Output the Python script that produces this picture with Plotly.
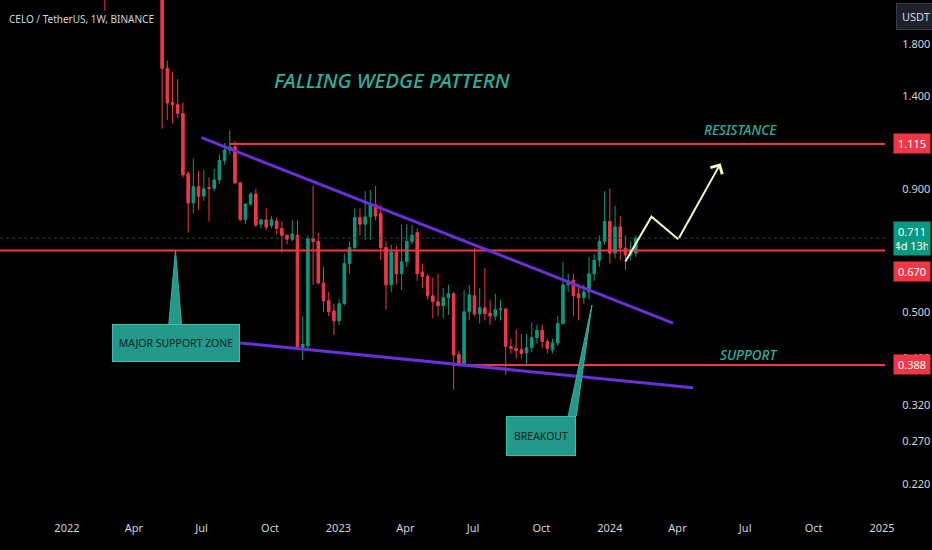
import math
import pandas as pd
import plotly.graph_objects as go

# CELO / USDT weekly candles
weeks = ["2022-02-21"] + [d.strftime("%Y-%m-%d") for d in pd.date_range("2022-05-09", periods=92, freq="7D")]

opens = [2.55,
         2.40, 1.60, 1.36, 1.345, 1.29, 0.967, 0.841, 0.909, 0.869, 0.905,
         0.902, 0.939, 1.03, 1.083, 1.10, 0.926, 0.777, 0.837, 0.878, 0.76,
         0.776, 0.755, 0.772, 0.745, 0.721, 0.707, 0.721, 0.42, 0.425, 0.711,
         0.70, 0.574, 0.528, 0.502, 0.479, 0.52, 0.63, 0.68, 0.785, 0.76,
         0.787, 0.835, 0.80, 0.68, 0.569, 0.665, 0.60, 0.635, 0.70, 0.73,
         0.605, 0.592, 0.54, 0.525, 0.515, 0.535, 0.545, 0.408, 0.39, 0.50,
         0.54, 0.495, 0.51, 0.497, 0.49, 0.505, 0.507, 0.424, 0.42, 0.418,
         0.411, 0.421, 0.442, 0.458, 0.434, 0.417, 0.431, 0.473, 0.569, 0.582,
         0.545, 0.535, 0.55, 0.60, 0.64, 0.70, 0.77, 0.662, 0.75, 0.678,
         0.656, 0.662]
highs = [2.75,
         2.52, 1.66, 1.57, 1.52, 1.36, 0.98, 1.04, 0.98, 0.985, 0.95,
         0.99, 1.06, 1.12, 1.19, 1.13, 0.93, 0.84, 0.885, 0.90, 0.78,
         0.82, 0.79, 0.785, 0.77, 0.725, 0.776, 0.776, 0.49, 0.72, 0.913,
         0.73, 0.62, 0.55, 0.52, 0.53, 0.66, 0.70, 0.82, 0.82, 0.89,
         0.895, 0.913, 0.835, 0.70, 0.69, 0.685, 0.757, 0.76, 0.757, 0.745,
         0.63, 0.60, 0.59, 0.60, 0.56, 0.569, 0.55, 0.415, 0.555, 0.569,
         0.678, 0.56, 0.617, 0.53, 0.545, 0.53, 0.51, 0.44, 0.46, 0.45,
         0.45, 0.475, 0.47, 0.47, 0.44, 0.44, 0.49, 0.635, 0.60, 0.60,
         0.57, 0.57, 0.65, 0.66, 0.72, 0.89, 0.90, 0.83, 0.79, 0.72,
         0.70, 0.72]
lows = [2.11,
        1.20, 1.25, 1.23, 1.26, 0.95, 0.73, 0.80, 0.813, 0.85, 0.77,
        0.89, 0.92, 1.01, 1.06, 0.92, 0.77, 0.76, 0.83, 0.75, 0.745,
        0.74, 0.745, 0.725, 0.662, 0.69, 0.70, 0.42, 0.397, 0.42, 0.569,
        0.57, 0.50, 0.49, 0.448, 0.47, 0.515, 0.60, 0.67, 0.72, 0.705,
        0.705, 0.775, 0.64, 0.505, 0.55, 0.57, 0.555, 0.62, 0.69, 0.58,
        0.56, 0.53, 0.485, 0.49, 0.485, 0.493, 0.345, 0.385, 0.385, 0.48,
        0.49, 0.473, 0.48, 0.47, 0.48, 0.48, 0.37, 0.41, 0.40, 0.40,
        0.39, 0.412, 0.43, 0.42, 0.41, 0.41, 0.425, 0.47, 0.55, 0.49,
        0.48, 0.52, 0.53, 0.58, 0.62, 0.69, 0.63, 0.645, 0.64, 0.61,
        0.64, 0.65]
closes = [2.40,
          1.60, 1.356, 1.345, 1.29, 0.962, 0.841, 0.909, 0.869, 0.90, 0.902,
          0.939, 1.03, 1.083, 1.10, 0.926, 0.777, 0.837, 0.878, 0.757, 0.776,
          0.75, 0.776, 0.745, 0.721, 0.707, 0.725, 0.423, 0.428, 0.71, 0.70,
          0.574, 0.527, 0.50, 0.479, 0.52, 0.63, 0.68, 0.785, 0.76, 0.787,
          0.835, 0.79, 0.68, 0.569, 0.665, 0.60, 0.635, 0.70, 0.721, 0.60,
          0.592, 0.54, 0.525, 0.515, 0.535, 0.545, 0.407, 0.39, 0.50, 0.542,
          0.495, 0.51, 0.496, 0.49, 0.505, 0.507, 0.424, 0.42, 0.416, 0.41,
          0.421, 0.442, 0.458, 0.434, 0.42, 0.431, 0.473, 0.569, 0.58, 0.54,
          0.535, 0.55, 0.60, 0.64, 0.70, 0.77, 0.662, 0.75, 0.678, 0.656,
          0.672, 0.711]

# drawn levels and lines
resistance = 1.115
mid_level = 0.670
support = 0.388
last_price = 0.711
upper_wedge_x = ["2022-07-01", "2024-03-26"]
upper_wedge_y = [1.149, 0.474]
lower_wedge_x = ["2022-08-22", "2024-04-22"]
lower_wedge_y = [0.431, 0.348]
path_x = ["2024-01-22", "2024-02-26", "2024-04-02", "2024-05-29"]
path_y = [0.636, 0.788, 0.707, 1.017]
circle_x = ["2023-11-13", "2023-12-26"]
circle_y = [0.519, 0.651]
zone_ptr_x = ["2022-05-18", "2022-05-27", "2022-06-04"]
zone_ptr_y = [0.472, 0.670, 0.472]
brk_ptr_x = ["2023-11-06", "2023-12-08", "2023-11-17"]
brk_ptr_y = [0.304, 0.517, 0.304]

# axes
x_ticks = ["2022-01-01", "2022-04-01", "2022-07-01", "2022-10-01", "2023-01-01", "2023-04-01",
           "2023-07-01", "2023-10-01", "2024-01-01", "2024-04-01", "2024-07-01", "2024-10-01", "2025-01-01"]
x_labels = ["2022", "Apr", "Jul", "Oct", "2023", "Apr", "Jul", "Oct", "2024", "Apr", "Jul", "Oct", "2025"]
y_ticks = [0.22, 0.27, 0.32, 0.40, 0.50, 0.75, 0.90, 1.40, 1.80]

GREEN = "#089981"
RED = "#f23645"
PURPLE = "#6a2fd8"
TEAL = "#2bb09c"
CREAM = "#fbf5c4"
FONT = "Noto Sans"

fig = go.Figure()

fig.add_trace(go.Candlestick(
    x=weeks, open=opens, high=highs, low=lows, close=closes,
    increasing=dict(line=dict(color=GREEN, width=1), fillcolor=GREEN),
    decreasing=dict(line=dict(color=RED, width=1), fillcolor=RED),
    whiskerwidth=0, hoverinfo="skip"))

# current price line
fig.add_trace(go.Scatter(x=["2021-09-01", "2025-03-01"], y=[last_price, last_price], mode="lines",
                         line=dict(color="#0d4f43", width=1, dash="dot"), hoverinfo="skip"))

# horizontal levels
fig.add_trace(go.Scatter(x=["2021-09-01", "2025-03-01"], y=[mid_level, mid_level], mode="lines",
                         line=dict(color=RED, width=2), hoverinfo="skip"))
fig.add_trace(go.Scatter(x=["2022-08-08", "2025-03-01"], y=[resistance, resistance], mode="lines",
                         line=dict(color=RED, width=2), hoverinfo="skip"))
fig.add_trace(go.Scatter(x=["2023-06-05", "2025-03-01"], y=[support, support], mode="lines",
                         line=dict(color=RED, width=2), hoverinfo="skip"))

# wedge lines
fig.add_trace(go.Scatter(x=upper_wedge_x, y=upper_wedge_y, mode="lines",
                         line=dict(color=PURPLE, width=3), hoverinfo="skip"))
fig.add_trace(go.Scatter(x=lower_wedge_x, y=lower_wedge_y, mode="lines",
                         line=dict(color=PURPLE, width=3), hoverinfo="skip"))

# callout pointers
fig.add_trace(go.Scatter(x=zone_ptr_x, y=zone_ptr_y, mode="lines", fill="toself",
                         fillcolor="#22998a", line=dict(color="#2fb3a1", width=1), hoverinfo="skip"))
fig.add_trace(go.Scatter(x=brk_ptr_x, y=brk_ptr_y, mode="lines", fill="toself",
                         fillcolor="#22998a", line=dict(color="#2fb3a1", width=1), hoverinfo="skip"))

# projected path
fig.add_trace(go.Scatter(x=path_x[:-1], y=path_y[:-1], mode="lines",
                         line=dict(color=CREAM, width=2), hoverinfo="skip"))

lg = math.log10

# breakout circle
fig.add_shape(type="circle", xref="x", yref="y",
              x0=circle_x[0], x1=circle_x[1], y0=lg(circle_y[0]), y1=lg(circle_y[1]),
              line=dict(color=CREAM, width=2), fillcolor="rgba(8,153,129,0.35)")

# connect levels to the price scale boxes
for lvl in [resistance, mid_level, support]:
    fig.add_shape(type="line", xref="paper", yref="y", x0=1, x1=1.012,
                  y0=lg(lvl), y1=lg(lvl), line=dict(color=RED, width=2))

ann = []
# last segment of the path as an arrow
ann.append(dict(x=path_x[-1], y=lg(path_y[-1]), ax=path_x[-2], ay=lg(path_y[-2]),
                xref="x", yref="y", axref="x", ayref="y", text="", showarrow=True,
                arrowhead=4, arrowsize=1.3, arrowwidth=2, arrowcolor=CREAM))

ann.append(dict(x=0.008, y=1 - 19 / 520, xref="paper", yref="paper", xanchor="left", yanchor="middle",
                text="CELO / TetherUS, 1W, BINANCE", showarrow=False,
                font=dict(family=FONT, size=10, color="#d1d4dc")))
ann.append(dict(x=392 / 885, y=1 - 80 / 520, xref="paper", yref="paper", xanchor="center", yanchor="middle",
                text="FALLING WEDGE PATTERN", showarrow=False,
                font=dict(family=FONT, size=20.5, color=TEAL, style="italic", weight=500)))
ann.append(dict(x=740 / 885, y=1 - 130 / 520, xref="paper", yref="paper", xanchor="center", yanchor="middle",
                text="RESISTANCE", showarrow=False,
                font=dict(family=FONT, size=13.5, color=TEAL, style="italic", weight=500)))
ann.append(dict(x=748 / 885, y=1 - 355 / 520, xref="paper", yref="paper", xanchor="center", yanchor="middle",
                text="SUPPORT", showarrow=False,
                font=dict(family=FONT, size=13.5, color=TEAL, style="italic", weight=500)))

ann.append(dict(x="2022-05-27", y=lg(0.430), xref="x", yref="y", text="MAJOR SUPPORT ZONE",
                showarrow=False, bgcolor="#22998a", bordercolor="#3cbfad", borderwidth=1,
                borderpad=4, width=118, height=28,
                font=dict(family=FONT, size=10.5, color="#0f2422")))
ann.append(dict(x="2023-10-01", y=lg(0.277), xref="x", yref="y", text="BREAKOUT",
                showarrow=False, bgcolor="#22998a", bordercolor="#3cbfad", borderwidth=1,
                borderpad=4, width=60, height=30,
                font=dict(family=FONT, size=10.5, color="#0f2422")))

# price scale boxes
for lvl, txt, col, shift in [(resistance, "1.115", RED, 0), (mid_level, "0.670", RED, -21),
                             (support, "0.388", RED, 0), (last_price, "0.711<br>4d 13h", GREEN, 0)]:
    ann.append(dict(x=1, y=lg(lvl), xref="paper", yref="y", xanchor="left", yanchor="middle",
                    xshift=8, yshift=shift, text=txt, showarrow=False, bgcolor=col, borderpad=2, width=32,
                    font=dict(family=FONT, size=11, color="#ffffff")))

ann.append(dict(x=1, y=1, xref="paper", yref="paper", xanchor="left", yanchor="top",
                xshift=11, yshift=-3, text="USDT", showarrow=False, bgcolor="#1e222d",
                bordercolor="#363a45", borderwidth=1, borderpad=5,
                font=dict(family=FONT, size=11, color="#d1d4dc")))

fig.update_layout(
    width=932, height=550,
    margin=dict(l=0, r=47, t=0, b=30),
    paper_bgcolor="#000000", plot_bgcolor="#000000",
    showlegend=False,
    annotations=ann,
    xaxis=dict(range=["2021-10-03", "2025-01-05"], tickvals=x_ticks, ticktext=x_labels,
               showgrid=False, zeroline=False, showline=False, ticks="",
               rangeslider=dict(visible=False),
               tickfont=dict(family=FONT, size=11, color="#d1d4dc")),
    yaxis=dict(type="log", side="right", range=[lg(0.185), lg(2.218)],
               tickvals=y_ticks, ticktext=["%.3f" % v for v in y_ticks],
               showgrid=False, zeroline=False, showline=False,
               ticks="outside", ticklen=14, tickcolor="#000000",
               tickfont=dict(family=FONT, size=11, color="#d1d4dc")),
)

# drop the page margin so the 932x550 figure fills the window
fig.write_html("out.html", config={"displayModeBar": False},
               post_script="document.body.style.margin='0';document.body.style.background='#000';")
